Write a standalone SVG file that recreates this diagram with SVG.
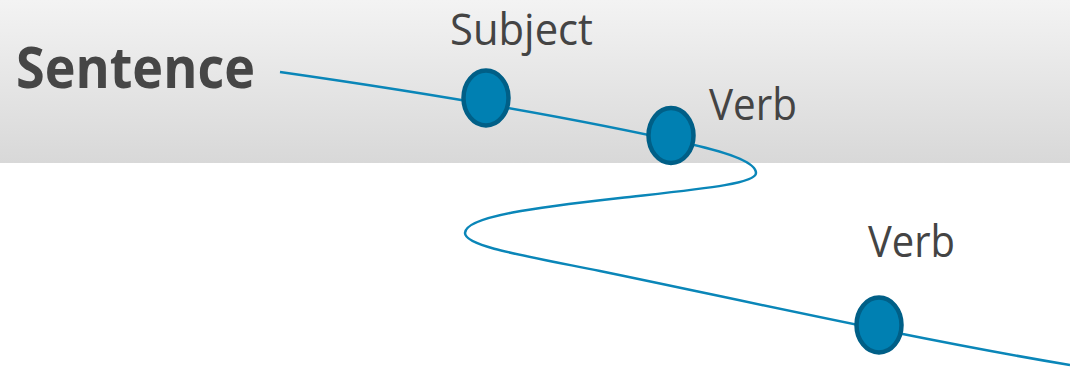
<svg xmlns="http://www.w3.org/2000/svg" width="1070" height="368" viewBox="0 0 1070 368">
<defs>
<linearGradient id="band" x1="0" y1="0" x2="0" y2="1">
<stop offset="0" stop-color="#f3f3f3"/>
<stop offset="1" stop-color="#d8d8d8"/>
</linearGradient>
<style>
.lbl{font-family:"Open Sans","Liberation Sans",sans-serif;font-size:43px;fill:#444444}
.title{font-family:"Open Sans","Liberation Sans",sans-serif;font-size:58px;font-weight:bold;fill:#464646}
.node{fill:#0080b2;stroke:#005f87;stroke-width:4.5}
.conn{fill:none;stroke:#0a86b8;stroke-width:2.5}
</style>
</defs>
<rect x="0" y="0" width="1070" height="368" fill="#ffffff"/>
<rect x="0" y="0" width="1070" height="163" fill="url(#band)"/>
<g id="title"><text class="title" x="16" y="88" textLength="239" lengthAdjust="spacingAndGlyphs">Sentence</text></g>
<g id="connectors">
<path class="conn" d="M280,72 C420,92 560,115 690,144 C730,153 756,163 756,173 C756,184 700,189 620,198 C540,207 465,216 465,233 C465,246 520,255 600,271 C750,302 920,340 1070,365"/>
</g>
<g id="node-subject">
<ellipse class="node" cx="486" cy="98" rx="22.5" ry="27.5"/>
<text class="lbl" x="450" y="45" textLength="143" lengthAdjust="spacingAndGlyphs">Subject</text>
</g>
<g id="node-verb1">
<ellipse class="node" cx="671" cy="135.5" rx="22.5" ry="27.5"/>
<text class="lbl" x="709" y="120" textLength="88" lengthAdjust="spacingAndGlyphs">Verb</text>
</g>
<g id="node-verb2">
<ellipse class="node" cx="879" cy="325" rx="22.5" ry="27.5"/>
<text class="lbl" x="868" y="257" textLength="87" lengthAdjust="spacingAndGlyphs">Verb</text>
</g>
</svg>
